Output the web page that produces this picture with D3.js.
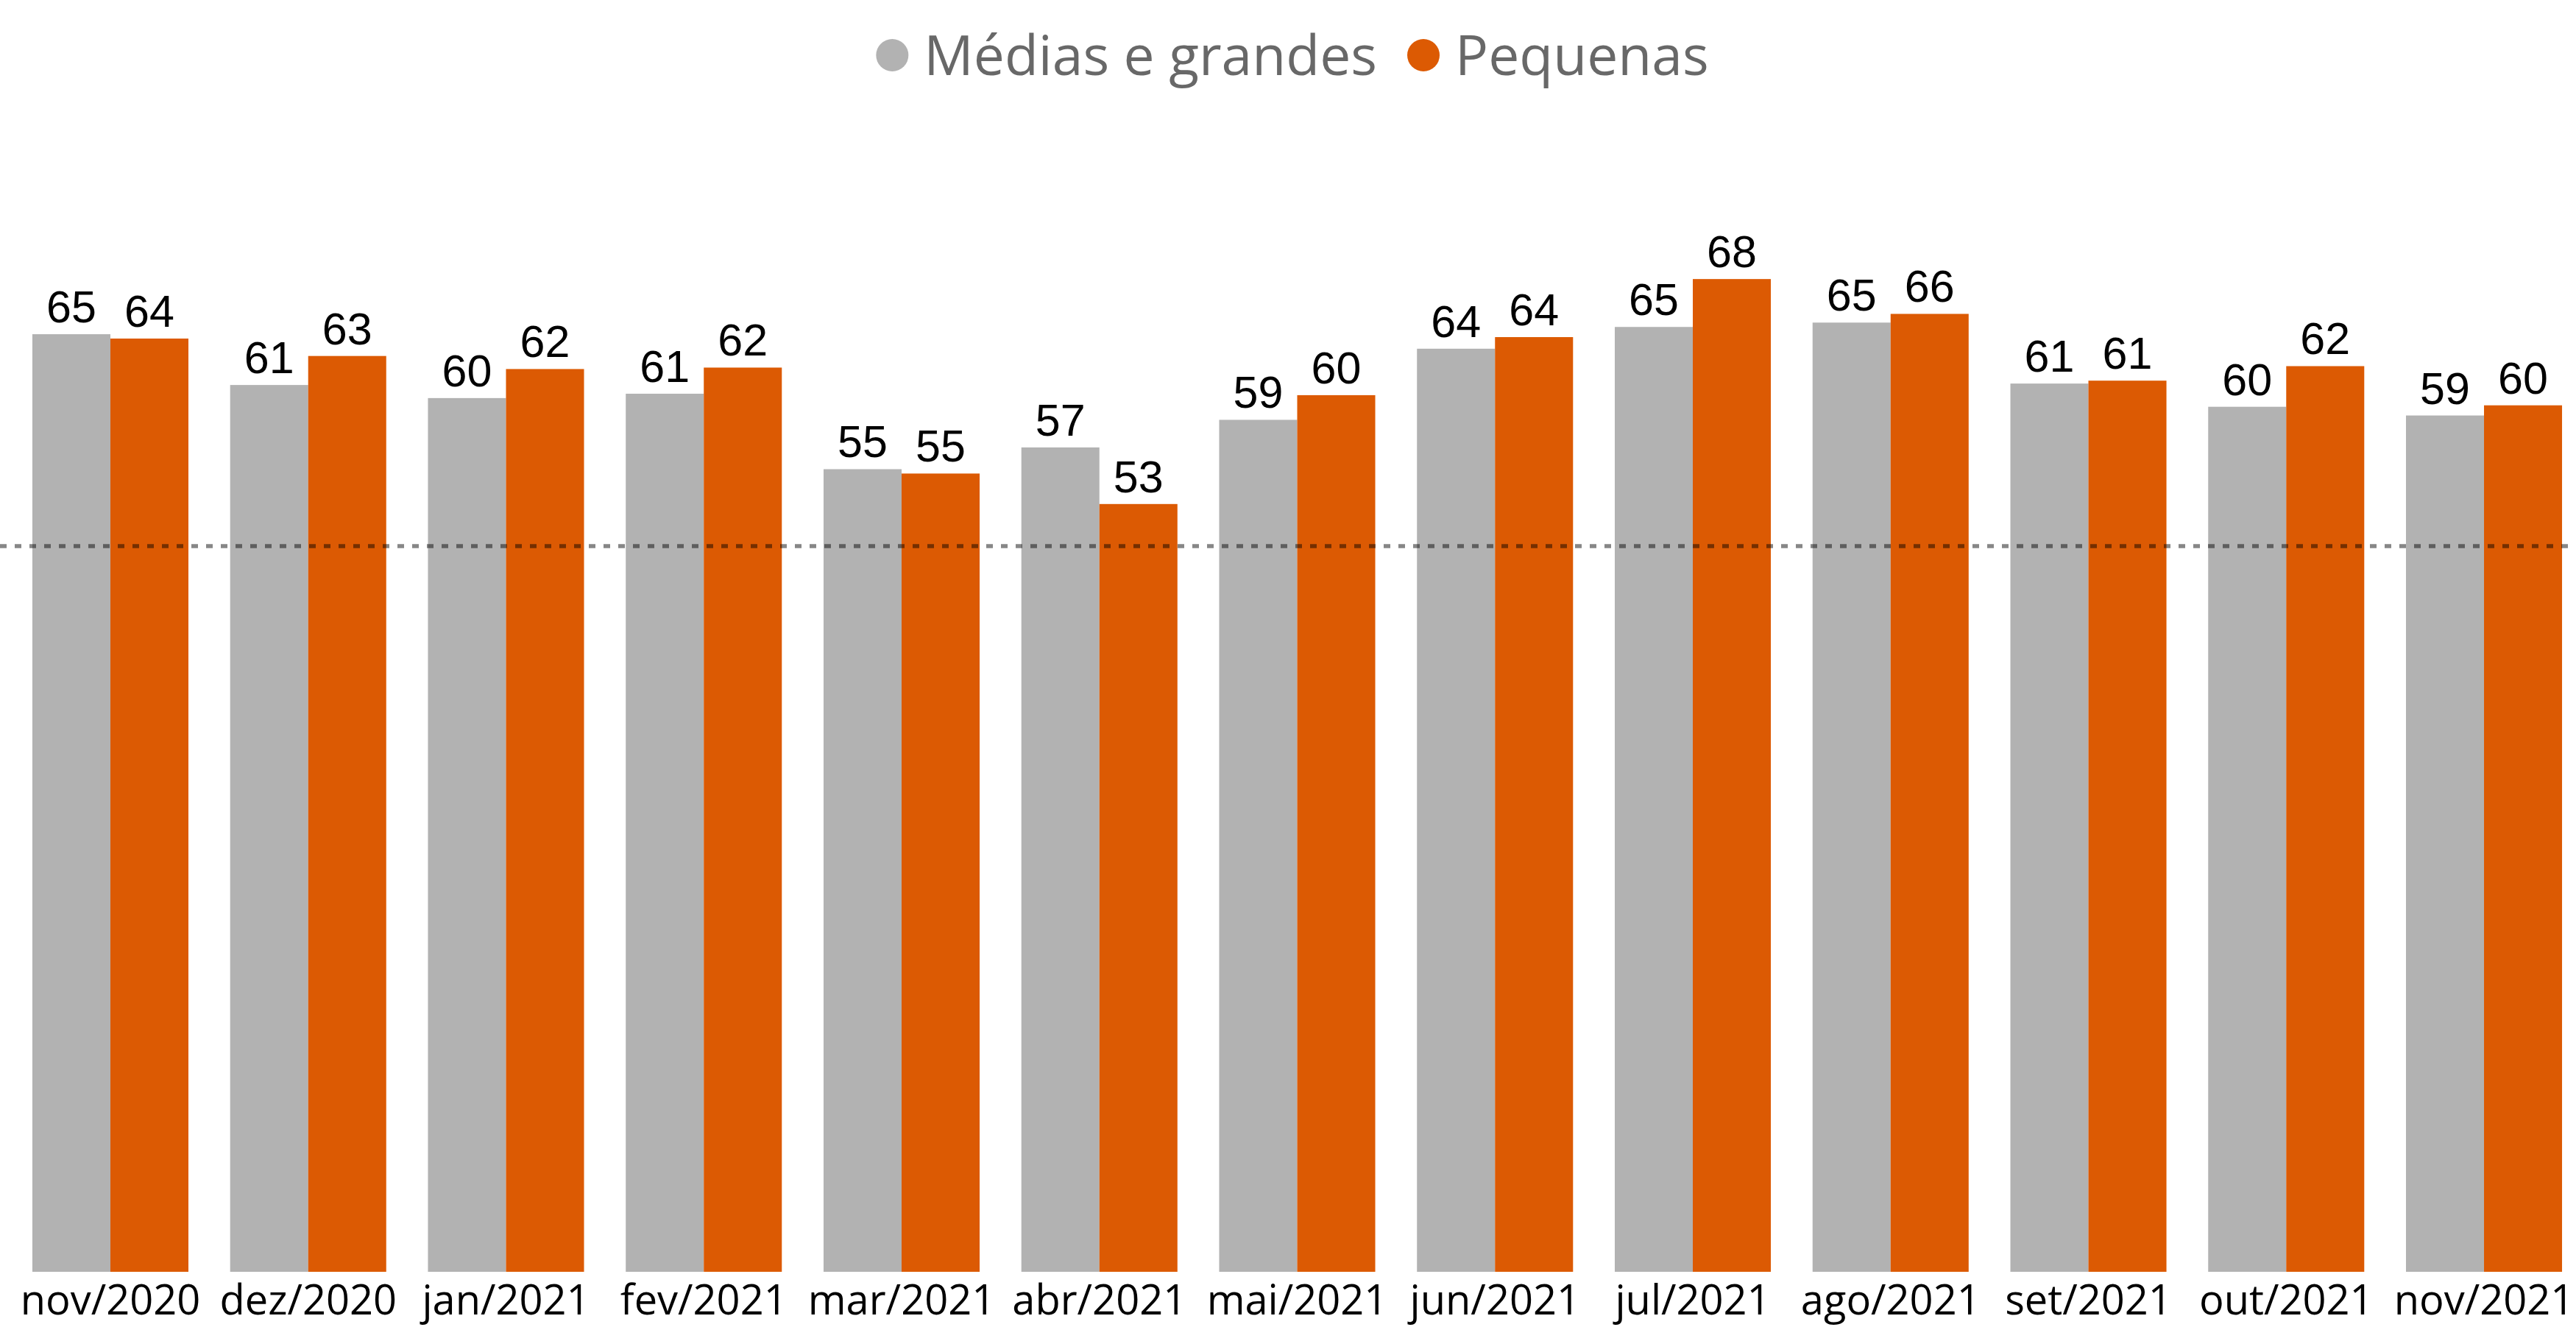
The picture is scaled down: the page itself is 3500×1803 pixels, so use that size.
<!DOCTYPE html>
<html>
<head>
<meta charset="utf-8">
<script src="https://cdn.jsdelivr.net/npm/d3@7"></script>
<style>
html, body { margin: 0; padding: 0; background: #fff; }
svg { display: block; }
</style>
</head>
<body>
<svg id="chart" width="3500" height="1803"></svg>
<script>
// dados
var months = ["nov/2020", "dez/2020", "jan/2021", "fev/2021", "mar/2021", "abr/2021", "mai/2021",
              "jun/2021", "jul/2021", "ago/2021", "set/2021", "out/2021", "nov/2021"];
var series = ["Médias e grandes", "Pequenas"];
var mediasGrandes = [64.6, 61.1, 60.2, 60.5, 55.3, 56.8, 58.7, 63.6, 65.1, 65.4, 61.2, 59.6, 59.0];
var pequenas      = [64.3, 63.1, 62.2, 62.3, 55.0, 52.9, 60.4, 64.4, 68.4, 66.0, 61.4, 62.4, 59.7];
var referencia = 50;
var colors = ["#b2b2b2", "#dc5a03"];

var svg = d3.select("#chart"),
    width = +svg.attr("width"),
    height = +svg.attr("height");

var baseY = 1728;

var x0 = d3.scaleBand()
    .domain(months)
    .range([15.6, 3509.4])
    .paddingInner(0.211)
    .paddingOuter(0.1055);

var x1 = d3.scaleBand()
    .domain(series)
    .range([0, x0.bandwidth()]);

var y = d3.scaleLinear()
    .domain([0, 70])
    .range([baseY, baseY - 70 * 19.72]);

var color = d3.scaleOrdinal().domain(series).range(colors);

var rows = months.map(function (m, i) {
    return { month: m, values: [
        { key: series[0], value: mediasGrandes[i] },
        { key: series[1], value: pequenas[i] }
    ]};
});

var groups = svg.selectAll("g.month")
    .data(rows)
    .enter().append("g")
    .attr("class", "month")
    .attr("transform", function (d) { return "translate(" + x0(d.month) + ",0)"; });

groups.selectAll("rect")
    .data(function (d) { return d.values; })
    .enter().append("rect")
    .attr("x", function (d) { return x1(d.key); })
    .attr("y", function (d) { return y(d.value); })
    .attr("width", x1.bandwidth())
    .attr("height", function (d) { return y(0) - y(d.value); })
    .attr("fill", function (d) { return color(d.key); });

groups.selectAll("text.val")
    .data(function (d) { return d.values; })
    .enter().append("text")
    .attr("class", "val")
    .attr("x", function (d) { return x1(d.key) + x1.bandwidth() / 2; })
    .attr("y", function (d) { return y(d.value) - 16; })
    .attr("text-anchor", "middle")
    .style("font-family", "'Liberation Sans', Arial, sans-serif")
    .style("font-size", "61px")
    .attr("fill", "#000")
    .text(function (d) { return Math.round(d.value); });

// linha de referencia tracejada
svg.append("line")
    .attr("x1", 0)
    .attr("x2", width)
    .attr("y1", y(referencia))
    .attr("y2", y(referencia))
    .attr("stroke", "#000")
    .attr("stroke-opacity", 0.47)
    .attr("stroke-width", 5.5)
    .attr("stroke-dasharray", "9,11");

// eixo x
var axis = svg.append("g")
    .attr("transform", "translate(0," + baseY + ")")
    .call(d3.axisBottom(x0).tickSize(0));
axis.select(".domain").remove();
axis.selectAll("text")
    .attr("y", 58)
    .attr("dy", null)
    .attr("fill", "#000")
    .style("font-family", "'Open Sans', 'Noto Sans', sans-serif")
    .style("font-size", "56px");

// legenda
var legend = svg.append("g");
var r = 22, gapText = 21, gapItem = 41, legendY = 102;
var cursor = 0;
series.forEach(function (s, i) {
    var item = legend.append("g");
    item.append("circle")
        .attr("cx", cursor + r)
        .attr("cy", legendY - 27)
        .attr("r", r)
        .attr("fill", color(s));
    var t = item.append("text")
        .attr("x", cursor + 2 * r + gapText)
        .attr("y", legendY)
        .attr("fill", "#686868")
        .style("font-family", "'Open Sans', 'Noto Sans', sans-serif")
        .style("font-size", "75px")
        .text(s);
    cursor += 2 * r + gapText + t.node().getComputedTextLength() + gapItem;
});
cursor -= gapItem;
legend.attr("transform", "translate(" + (1756 - cursor / 2) + ",0)");
</script>
</body>
</html>
